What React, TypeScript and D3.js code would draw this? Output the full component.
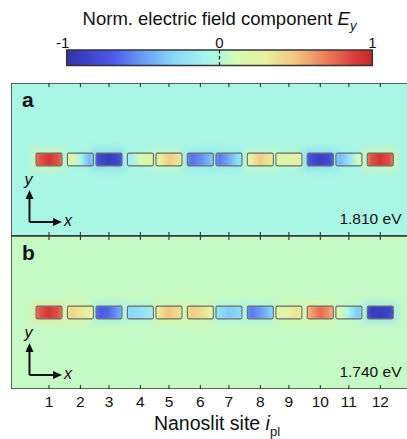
import React from "react";
import * as d3 from "d3";

// site centres along x (nm), alternating long / short spacing
const sites = [1, 2, 3, 4, 5, 6, 7, 8, 9, 10, 11, 12];
const sitePosNm = [0, 330, 630, 960, 1260, 1590, 1890, 2220, 2520, 2850, 3150, 3480];

const panels = ["a", "b"];
const energies = ["1.810 eV", "1.740 eV"];
const backgroundEy = [-0.05, 0.06];

// Ey inside each slit: [left, middle, right]
const modeA = [
  [0.82, 0.92, 0.82],
  [0.2, -0.05, -0.4],
  [-0.82, -0.92, -0.82],
  [-0.12, 0.1, 0.25],
  [0.3, 0.45, 0.35],
  [-0.62, -0.55, -0.4],
  [-0.6, -0.45, -0.25],
  [0.28, 0.45, 0.35],
  [0.18, 0.25, 0.22],
  [-0.8, -0.9, -0.8],
  [-0.4, -0.22, 0.08],
  [0.82, 0.92, 0.82],
];
const modeB = [
  [0.82, 0.92, 0.82],
  [0.42, 0.35, 0.25],
  [-0.7, -0.65, -0.5],
  [-0.3, -0.25, -0.15],
  [0.35, 0.5, 0.4],
  [0.45, 0.4, 0.3],
  [-0.25, -0.35, -0.3],
  [-0.6, -0.5, -0.35],
  [0.2, 0.3, 0.35],
  [0.6, 0.75, 0.62],
  [0.15, -0.1, -0.35],
  [-0.88, -0.92, -0.85],
];
const modes = [modeA, modeB];

const cbTicks = [-1, 0, 1];
const cmapStops = [-1, -0.9, -0.7, -0.5, -0.3, -0.1, 0, 0.1, 0.3, 0.5, 0.7, 0.9, 1];
const cmapColors = [
  "#3333aa", "#3a3ec0", "#4a5ae8", "#6a9cf4", "#8ad8f8", "#a2f4ee", "#b0f8dc",
  "#d4fcb4", "#e8f0a0", "#f2c47e", "#ea7c5a", "#d83838", "#c22a2a",
];

const font = "'Liberation Sans', Arial, sans-serif";

export default function App() {
  const width = 407;
  const height = 439;

  const color = d3
    .scaleLinear<string>()
    .domain(cmapStops)
    .range(cmapColors)
    .interpolate(d3.interpolateRgb)
    .clamp(true);

  const x = d3
    .scaleLinear()
    .domain([sitePosNm[0], sitePosNm[sitePosNm.length - 1]])
    .range([49, 380.3]);

  const y = d3.scaleBand<string>().domain(panels).range([83, 389]);
  const panelLeft = 11;
  const panelRight = 415;
  const slitW = 26;
  const slitH = 12.7;
  const tickLen = 4;

  const cb = d3.scaleLinear().domain([-1, 1]).range([66.7, 372.3]);
  const cbTop = 50;
  const cbH = 15.5;
  const cbStopsGrad = d3.range(0, 1.0001, 0.05);

  return (
    <svg width={width} height={height} style={{ position: "absolute", left: 0, top: 0 }} fontFamily={font}>
      <defs>
        <linearGradient id="cbgrad" x1="0" x2="1" y1="0" y2="0">
          {cbStopsGrad.map((t) => (
            <stop key={t} offset={t} stopColor={color(-1 + 2 * t)} />
          ))}
        </linearGradient>
        <filter id="halo" x="-50%" y="-100%" width="200%" height="300%">
          <feGaussianBlur stdDeviation="3.5" />
        </filter>
        {modes.map((mode, p) =>
          mode.map((v, i) => (
            <linearGradient key={`g${p}-${i}`} id={`slit${p}-${i}`} x1="0" x2="1" y1="0" y2="0">
              <stop offset="0" stopColor={color(v[0] * 0.85)} />
              <stop offset="0.15" stopColor={color(v[0])} />
              <stop offset="0.5" stopColor={color(v[1])} />
              <stop offset="0.85" stopColor={color(v[2])} />
              <stop offset="1" stopColor={color(v[2] * 0.85)} />
            </linearGradient>
          ))
        )}
        <clipPath id="plotclip">
          <rect x={panelLeft} y={83} width={panelRight - panelLeft} height={306} />
        </clipPath>
      </defs>

      {/* colour bar */}
      <text x={219.5} y={25} textAnchor="middle" fontSize={18.5} fill="#111">
        Norm. electric field component <tspan fontStyle="italic">E</tspan>
        <tspan fontStyle="italic" fontSize={13} dy={4.5}>y</tspan>
      </text>
      <rect x={cb(-1)} y={cbTop} width={cb(1) - cb(-1)} height={cbH} fill="url(#cbgrad)" stroke="#333" strokeWidth={1.5} />
      <line x1={cb(0)} x2={cb(0)} y1={cbTop} y2={cbTop + cbH} stroke="#222" strokeWidth={1.2} strokeDasharray="3.5,2.5" />
      {cbTicks.map((t) => (
        <text key={t} x={cb(t) - (t < 0 ? 4 : 0)} y={47.5} textAnchor="middle" fontSize={15} fill="#111">
          {t}
        </text>
      ))}

      {/* panels */}
      <g clipPath="url(#plotclip)">
        {panels.map((p, pi) => {
          const top = y(p)!;
          const bw = y.bandwidth();
          const cy = top + bw / 2;
          const mode = modes[pi];
          return (
            <g key={p}>
              <rect x={panelLeft} y={top} width={panelRight - panelLeft} height={bw} fill={color(backgroundEy[pi])} />
              {mode.map((v, i) => (
                <rect
                  key={`h${i}`}
                  x={x(sitePosNm[i]) - slitW / 2 - 5}
                  y={cy - slitH / 2 - 5}
                  width={slitW + 10}
                  height={slitH + 10}
                  fill={color(backgroundEy[pi] + v[1] * 0.3)}
                  opacity={0.6}
                  filter="url(#halo)"
                />
              ))}
              {mode.map((v, i) => (
                <rect
                  key={`s${i}`}
                  x={x(sitePosNm[i]) - slitW / 2}
                  y={cy - slitH / 2}
                  width={slitW}
                  height={slitH}
                  rx={1.5}
                  fill={`url(#slit${pi}-${i})`}
                  stroke="#6a6a6a"
                  strokeWidth={1.1}
                />
              ))}
              {sitePosNm.map((s, i) => (
                <g key={`t${i}`} stroke="#333" strokeWidth={1.1}>
                  <line x1={x(s)} x2={x(s)} y1={top} y2={top + tickLen} />
                  <line x1={x(s)} x2={x(s)} y1={top + bw - tickLen} y2={top + bw} />
                </g>
              ))}
              <rect x={panelLeft} y={top} width={panelRight - panelLeft} height={bw} fill="none" stroke="#333" strokeWidth={1.5} />
              <text x={22} y={top + 24} fontSize={21} fontWeight="bold" fill="#111">
                {p}
              </text>
              <text x={401.5} y={top + 140.5} textAnchor="end" fontSize={15.5} fill="#111">
                {energies[pi]}
              </text>
              {/* coordinate arrows */}
              <g stroke="#111" strokeWidth={2} fill="none">
                <line x1={29.5} x2={29.5} y1={top + 139} y2={top + 114} />
                <line x1={29.5} x2={54} y1={top + 139} y2={top + 139} />
              </g>
              <polygon
                points={`29.5,${top + 107} 25.5,${top + 116} 33.5,${top + 116}`}
                fill="#111"
              />
              <polygon
                points={`62,${top + 139} 53,${top + 135} 53,${top + 143}`}
                fill="#111"
              />
              <text x={24.5} y={top + 102} fontSize={16} fontStyle="italic" fill="#111">
                y
              </text>
              <text x={64} y={top + 142.5} fontSize={16} fontStyle="italic" fill="#111">
                x
              </text>
            </g>
          );
        })}
      </g>

      {/* x axis labels */}
      {sitePosNm.map((s, i) => (
        <text key={sites[i]} x={x(s)} y={407} textAnchor="middle" fontSize={15.5} fill="#111">
          {sites[i]}
        </text>
      ))}
      <text x={217} y={430} textAnchor="middle" fontSize={19.5} fill="#111">
        Nanoslit site <tspan fontStyle="italic">i</tspan>
        <tspan fontSize={13} dy={6}>pl</tspan>
      </text>
    </svg>
  );
}
